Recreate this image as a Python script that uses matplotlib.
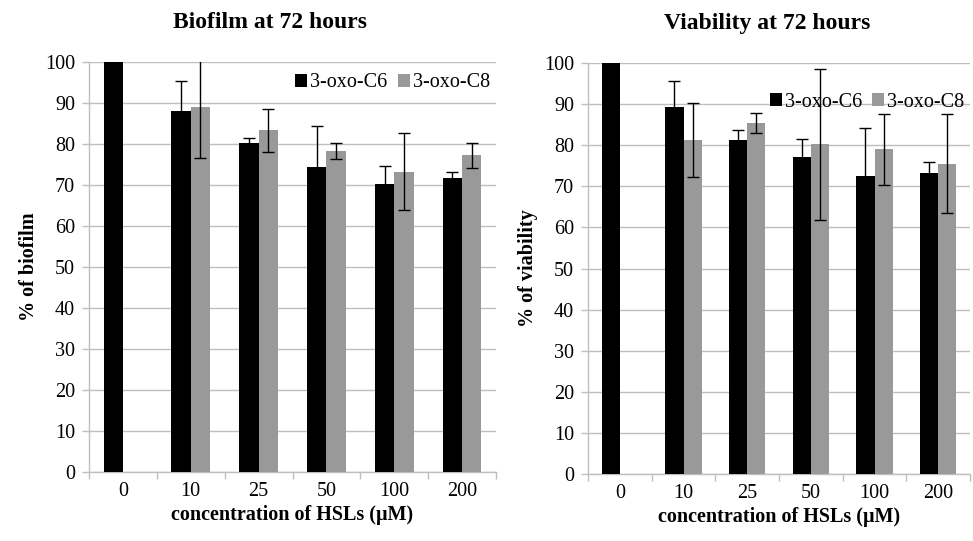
import numpy as np
import matplotlib
matplotlib.use('Agg')
import matplotlib.pyplot as plt

plt.rcParams['font.family'] = ['Liberation Serif', 'DejaVu Serif']

concentrations = ['0', '10', '25', '50', '100', '200']

# biofilm at 72 h
biofilm_c6 = [100, 88.1, 80.2, 74.3, 70.2, 71.6]
biofilm_c6_err = [0, 7.3, 1.3, 10.0, 4.4, 1.5]
biofilm_c8 = [0, 89.0, 83.3, 78.3, 73.2, 77.2]
biofilm_c8_err = [0, 12.3, 5.3, 2.0, 9.4, 3.1]

# viability at 72 h
viab_c6 = [100, 89.3, 81.2, 77.2, 72.4, 73.2]
viab_c6_err = [0, 6.3, 2.5, 4.2, 11.7, 2.8]
viab_c8 = [0, 81.2, 85.4, 80.2, 79.0, 75.5]
viab_c8_err = [0, 9.0, 2.4, 18.3, 8.6, 12.0]

grid_col = '#bfbfbf'
grey = '#999999'
fs = 14.5


def draw(ax, c6, c6_err, c8, c8_err, ylabel, leg_anchor):
    x = np.arange(len(concentrations))
    w = 0.285
    ax.bar(x - w / 2, c6, w, color='black', label='3-oxo-C6', zorder=3)
    c8_vals = [v if v > 0 else np.nan for v in c8]
    ax.bar(x + w / 2, c8_vals, w, color=grey, label='3-oxo-C8', zorder=3)
    errs = [(i, v, e) for i, (v, e) in enumerate(zip(c6, c6_err)) if e > 0]
    ax.errorbar([x[i] - w / 2 for i, _, _ in errs], [v for _, v, _ in errs],
                yerr=[e for _, _, e in errs], fmt='none', ecolor='black',
                elinewidth=1, capsize=4, capthick=1, zorder=4)
    errs = [(i, v, e) for i, (v, e) in enumerate(zip(c8, c8_err)) if e > 0]
    ax.errorbar([x[i] + w / 2 for i, _, _ in errs], [v for _, v, _ in errs],
                yerr=[e for _, _, e in errs], fmt='none', ecolor='black',
                elinewidth=1, capsize=4, capthick=1, zorder=4)

    ax.set_xlim(-0.5, len(concentrations) - 0.5)
    ax.set_ylim(0, 100)
    ax.set_yticks(range(0, 101, 10))
    ax.yaxis.grid(True, color=grid_col, linewidth=1, zorder=0)
    ax.set_axisbelow(True)

    ax.set_xticks(x)
    ax.set_xticklabels(concentrations, fontsize=fs)
    ax.tick_params(axis='x', length=0, pad=7)
    ax.set_xticks(np.arange(-0.5, len(concentrations)), minor=True)
    ax.tick_params(axis='x', which='minor', length=5, color=grid_col, width=1)
    ax.tick_params(axis='y', length=5, color=grid_col, width=1, labelsize=fs, pad=5)

    for s in ['top', 'right']:
        ax.spines[s].set_visible(False)
    for s in ['left', 'bottom']:
        ax.spines[s].set_color(grid_col)
        ax.spines[s].set_linewidth(1)

    ax.set_xlabel('concentration of HSLs (μM)', fontsize=fs, fontweight='bold', labelpad=3)
    ax.set_ylabel(ylabel, fontsize=fs, fontweight='bold', labelpad=4)

    ax.legend(loc='center right', bbox_to_anchor=leg_anchor, ncol=2, frameon=False,
              fontsize=fs, handlelength=0.6, handleheight=0.6, handletextpad=0.15,
              columnspacing=0.5, borderaxespad=0, borderpad=0)


fig = plt.figure(figsize=(9.73, 5.41), dpi=100)
ax1 = fig.add_axes([0.0915, 0.1275, 0.4183, 0.7579])
ax2 = fig.add_axes([0.6043, 0.1238, 0.3927, 0.7597])

draw(ax1, biofilm_c6, biofilm_c6_err, biofilm_c8, biofilm_c8_err, '% of biofilm', (0.985, 0.949))
draw(ax2, viab_c6, viab_c6_err, viab_c8, viab_c8_err, '% of viability', (0.985, 0.905))

fig.text(270 / 973, 1 - 23 / 541, 'Biofilm at 72 hours', ha='center', va='center',
         fontsize=17, fontweight='bold')
fig.text(767 / 973, 1 - 23 / 541, 'Viability at 72 hours', ha='center', va='center',
         fontsize=17, fontweight='bold')

fig.savefig('out.png', dpi=100)
